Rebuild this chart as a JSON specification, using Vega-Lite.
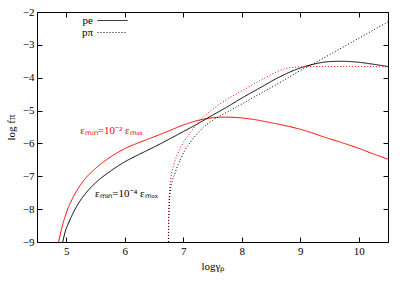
{
  "$schema": "https://vega.github.io/schema/vega-lite/v6.json",
  "width": 351,
  "height": 230,
  "autosize": {"type": "none"},
  "padding": {"left": 37, "top": 12, "right": 19, "bottom": 43},
  "background": "white",
  "config": {
    "font": "'Liberation Serif', 'Times New Roman', serif",
    "view": {"stroke": "black", "strokeWidth": 1},
    "text": {"font": "'Liberation Serif', 'Times New Roman', serif"},
    "legend": {"labelFont": "'Liberation Serif', 'Times New Roman', serif"},
    "axis": {
      "domain": false,
      "grid": false,
      "ticks": true,
      "tickSize": -5,
      "tickColor": "black",
      "tickWidth": 1,
      "labelFont": "'Liberation Serif', 'Times New Roman', serif",
      "labelFontSize": 11,
      "labelColor": "black",
      "titleFont": "'Liberation Serif', 'Times New Roman', serif",
      "titleFontSize": 11,
      "titleFontWeight": "normal",
      "titleColor": "black"
    }
  },
  "datasets": {
    "curves": [
      {"x": 4.87, "y": -9, "process": "pe", "emin": "1e-2"},
      {"x": 4.92, "y": -8.6, "process": "pe", "emin": "1e-2"},
      {"x": 5.0, "y": -8.12, "process": "pe", "emin": "1e-2"},
      {"x": 5.1, "y": -7.7, "process": "pe", "emin": "1e-2"},
      {"x": 5.2, "y": -7.38, "process": "pe", "emin": "1e-2"},
      {"x": 5.35, "y": -7.02, "process": "pe", "emin": "1e-2"},
      {"x": 5.5, "y": -6.76, "process": "pe", "emin": "1e-2"},
      {"x": 5.75, "y": -6.42, "process": "pe", "emin": "1e-2"},
      {"x": 6.0, "y": -6.16, "process": "pe", "emin": "1e-2"},
      {"x": 6.25, "y": -5.97, "process": "pe", "emin": "1e-2"},
      {"x": 6.5, "y": -5.8, "process": "pe", "emin": "1e-2"},
      {"x": 6.75, "y": -5.62, "process": "pe", "emin": "1e-2"},
      {"x": 7.0, "y": -5.44, "process": "pe", "emin": "1e-2"},
      {"x": 7.25, "y": -5.3, "process": "pe", "emin": "1e-2"},
      {"x": 7.5, "y": -5.22, "process": "pe", "emin": "1e-2"},
      {"x": 7.7, "y": -5.2, "process": "pe", "emin": "1e-2"},
      {"x": 7.9, "y": -5.21, "process": "pe", "emin": "1e-2"},
      {"x": 8.2, "y": -5.27, "process": "pe", "emin": "1e-2"},
      {"x": 8.5, "y": -5.37, "process": "pe", "emin": "1e-2"},
      {"x": 8.8, "y": -5.48, "process": "pe", "emin": "1e-2"},
      {"x": 9.1, "y": -5.62, "process": "pe", "emin": "1e-2"},
      {"x": 9.4, "y": -5.8, "process": "pe", "emin": "1e-2"},
      {"x": 9.7, "y": -5.97, "process": "pe", "emin": "1e-2"},
      {"x": 10.0, "y": -6.15, "process": "pe", "emin": "1e-2"},
      {"x": 10.25, "y": -6.32, "process": "pe", "emin": "1e-2"},
      {"x": 10.5, "y": -6.48, "process": "pe", "emin": "1e-2"},

      {"x": 4.94, "y": -9, "process": "pe", "emin": "1e-4"},
      {"x": 4.98, "y": -8.7, "process": "pe", "emin": "1e-4"},
      {"x": 5.04, "y": -8.42, "process": "pe", "emin": "1e-4"},
      {"x": 5.1, "y": -8.18, "process": "pe", "emin": "1e-4"},
      {"x": 5.2, "y": -7.85, "process": "pe", "emin": "1e-4"},
      {"x": 5.35, "y": -7.48, "process": "pe", "emin": "1e-4"},
      {"x": 5.5, "y": -7.2, "process": "pe", "emin": "1e-4"},
      {"x": 5.75, "y": -6.85, "process": "pe", "emin": "1e-4"},
      {"x": 6.0, "y": -6.56, "process": "pe", "emin": "1e-4"},
      {"x": 6.25, "y": -6.33, "process": "pe", "emin": "1e-4"},
      {"x": 6.5, "y": -6.11, "process": "pe", "emin": "1e-4"},
      {"x": 6.75, "y": -5.88, "process": "pe", "emin": "1e-4"},
      {"x": 7.0, "y": -5.64, "process": "pe", "emin": "1e-4"},
      {"x": 7.25, "y": -5.4, "process": "pe", "emin": "1e-4"},
      {"x": 7.5, "y": -5.14, "process": "pe", "emin": "1e-4"},
      {"x": 7.75, "y": -4.89, "process": "pe", "emin": "1e-4"},
      {"x": 8.0, "y": -4.62, "process": "pe", "emin": "1e-4"},
      {"x": 8.3, "y": -4.32, "process": "pe", "emin": "1e-4"},
      {"x": 8.6, "y": -4.02, "process": "pe", "emin": "1e-4"},
      {"x": 8.9, "y": -3.77, "process": "pe", "emin": "1e-4"},
      {"x": 9.2, "y": -3.6, "process": "pe", "emin": "1e-4"},
      {"x": 9.5, "y": -3.51, "process": "pe", "emin": "1e-4"},
      {"x": 9.7, "y": -3.5, "process": "pe", "emin": "1e-4"},
      {"x": 10.0, "y": -3.53, "process": "pe", "emin": "1e-4"},
      {"x": 10.25, "y": -3.59, "process": "pe", "emin": "1e-4"},
      {"x": 10.5, "y": -3.66, "process": "pe", "emin": "1e-4"},

      {"x": 6.745, "y": -9, "process": "pπ", "emin": "1e-2"},
      {"x": 6.747, "y": -8.5, "process": "pπ", "emin": "1e-2"},
      {"x": 6.752, "y": -8.0, "process": "pπ", "emin": "1e-2"},
      {"x": 6.76, "y": -7.6, "process": "pπ", "emin": "1e-2"},
      {"x": 6.775, "y": -7.25, "process": "pπ", "emin": "1e-2"},
      {"x": 6.8, "y": -6.92, "process": "pπ", "emin": "1e-2"},
      {"x": 6.84, "y": -6.63, "process": "pπ", "emin": "1e-2"},
      {"x": 6.88, "y": -6.42, "process": "pπ", "emin": "1e-2"},
      {"x": 6.94, "y": -6.18, "process": "pπ", "emin": "1e-2"},
      {"x": 7.02, "y": -5.92, "process": "pπ", "emin": "1e-2"},
      {"x": 7.1, "y": -5.72, "process": "pπ", "emin": "1e-2"},
      {"x": 7.17, "y": -5.55, "process": "pπ", "emin": "1e-2"},
      {"x": 7.3, "y": -5.27, "process": "pπ", "emin": "1e-2"},
      {"x": 7.46, "y": -5.02, "process": "pπ", "emin": "1e-2"},
      {"x": 7.6, "y": -4.83, "process": "pπ", "emin": "1e-2"},
      {"x": 7.8, "y": -4.6, "process": "pπ", "emin": "1e-2"},
      {"x": 8.0, "y": -4.4, "process": "pπ", "emin": "1e-2"},
      {"x": 8.2, "y": -4.2, "process": "pπ", "emin": "1e-2"},
      {"x": 8.4, "y": -4.0, "process": "pπ", "emin": "1e-2"},
      {"x": 8.6, "y": -3.82, "process": "pπ", "emin": "1e-2"},
      {"x": 8.75, "y": -3.72, "process": "pπ", "emin": "1e-2"},
      {"x": 8.9, "y": -3.68, "process": "pπ", "emin": "1e-2"},
      {"x": 9.2, "y": -3.66, "process": "pπ", "emin": "1e-2"},
      {"x": 9.6, "y": -3.66, "process": "pπ", "emin": "1e-2"},
      {"x": 10.0, "y": -3.66, "process": "pπ", "emin": "1e-2"},
      {"x": 10.5, "y": -3.67, "process": "pπ", "emin": "1e-2"},

      {"x": 6.75, "y": -9, "process": "pπ", "emin": "1e-4"},
      {"x": 6.752, "y": -8.5, "process": "pπ", "emin": "1e-4"},
      {"x": 6.757, "y": -8.1, "process": "pπ", "emin": "1e-4"},
      {"x": 6.765, "y": -7.75, "process": "pπ", "emin": "1e-4"},
      {"x": 6.78, "y": -7.42, "process": "pπ", "emin": "1e-4"},
      {"x": 6.81, "y": -7.15, "process": "pπ", "emin": "1e-4"},
      {"x": 6.86, "y": -6.9, "process": "pπ", "emin": "1e-4"},
      {"x": 6.91, "y": -6.65, "process": "pπ", "emin": "1e-4"},
      {"x": 6.97, "y": -6.42, "process": "pπ", "emin": "1e-4"},
      {"x": 7.03, "y": -6.2, "process": "pπ", "emin": "1e-4"},
      {"x": 7.14, "y": -5.92, "process": "pπ", "emin": "1e-4"},
      {"x": 7.25, "y": -5.68, "process": "pπ", "emin": "1e-4"},
      {"x": 7.35, "y": -5.5, "process": "pπ", "emin": "1e-4"},
      {"x": 7.5, "y": -5.3, "process": "pπ", "emin": "1e-4"},
      {"x": 7.6, "y": -5.19, "process": "pπ", "emin": "1e-4"},
      {"x": 7.8, "y": -5.0, "process": "pπ", "emin": "1e-4"},
      {"x": 8.0, "y": -4.8, "process": "pπ", "emin": "1e-4"},
      {"x": 8.2, "y": -4.6, "process": "pπ", "emin": "1e-4"},
      {"x": 8.43, "y": -4.37, "process": "pπ", "emin": "1e-4"},
      {"x": 8.62, "y": -4.18, "process": "pπ", "emin": "1e-4"},
      {"x": 9.0, "y": -3.78, "process": "pπ", "emin": "1e-4"},
      {"x": 9.3, "y": -3.5, "process": "pπ", "emin": "1e-4"},
      {"x": 9.6, "y": -3.2, "process": "pπ", "emin": "1e-4"},
      {"x": 10.0, "y": -2.8, "process": "pπ", "emin": "1e-4"},
      {"x": 10.5, "y": -2.3, "process": "pπ", "emin": "1e-4"}
    ],
    "labels": [
      {"x": 5.24, "y": -5.62, "label": "εₘᵢₙ=10⁻² εₘₐₓ", "emin": "1e-2"},
      {"x": 5.49, "y": -7.55, "label": "εₘᵢₙ=10⁻⁴ εₘₐₓ", "emin": "1e-4"}
    ]
  },
  "layer": [
    {
      "data": {"name": "curves"},
      "mark": {"type": "line", "interpolate": "monotone", "strokeWidth": 1, "clip": true},
      "encoding": {
        "x": {
          "field": "x", "type": "quantitative",
          "scale": {"domain": [4.5, 10.5], "nice": false, "zero": false},
          "axis": {"orient": "bottom", "values": [5, 6, 7, 8, 9, 10], "title": "logγₚ", "labelPadding": 8, "titlePadding": 4}
        },
        "y": {
          "field": "y", "type": "quantitative",
          "scale": {"domain": [-9, -2], "nice": false, "zero": false},
          "axis": {"orient": "left", "values": [-9, -8, -7, -6, -5, -4, -3, -2], "title": "log fπ", "labelPadding": 8, "titlePadding": 6}
        },
        "color": {
          "field": "emin", "type": "nominal",
          "scale": {"domain": ["1e-4", "1e-2"], "range": ["black", "#ff0000"]},
          "legend": null
        },
        "strokeDash": {
          "field": "process", "type": "nominal",
          "scale": {"domain": ["pe", "pπ"], "range": [[1, 0], [1, 2]]},
          "legend": {
            "orient": "none", "legendX": 70, "legendY": 3, "title": null,
            "symbolType": "M-3,0L3,0", "symbolSize": 100, "symbolStrokeWidth": 1,
            "symbolStrokeColor": "black",
            "labelFontSize": 11, "labelColor": "black", "labelAlign": "right", "labelOffset": -25, "rowPadding": 0
          }
        }
      }
    },
    {
      "data": {"name": "labels"},
      "mark": {"type": "text", "align": "left", "baseline": "middle", "fontSize": 11},
      "encoding": {
        "x": {
          "field": "x", "type": "quantitative",
          "axis": {"orient": "top", "values": [5, 6, 7, 8, 9, 10], "labels": false, "title": null}
        },
        "y": {
          "field": "y", "type": "quantitative",
          "axis": {"orient": "right", "values": [-9, -8, -7, -6, -5, -4, -3, -2], "labels": false, "title": null}
        },
        "text": {"field": "label"},
        "color": {"field": "emin", "type": "nominal", "legend": null}
      }
    }
  ],
  "resolve": {"axis": {"x": "independent", "y": "independent"}}
}
